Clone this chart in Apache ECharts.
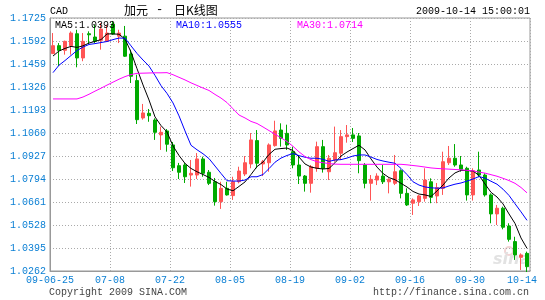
<!DOCTYPE html>
<html><head><meta charset="utf-8">
<script src="https://cdn.jsdelivr.net/npm/echarts@6/dist/echarts.min.js"></script>
<style>html,body{margin:0;padding:0;background:#fff}#c{width:545px;height:300px}</style>
</head><body><div id="c"></div>
<script>
// ---- data ----
const startDate = '2009-06-25';
const tickLabels = ['09-06-25','07-08','07-22','08-05','08-19','09-02','09-16','09-30','10-14'];
const openVals = [1.1519,1.1565,1.1538,1.1565,1.1634,1.1494,1.1634,1.1615,1.1596,1.1590,
1.1690,1.1620,1.1620,1.1517,1.1363,1.1147,1.1174,1.1135,1.1049,1.1072,
1.0991,1.0871,1.0875,1.0817,1.0817,1.0910,1.0833,1.0778,1.0663,1.0740,
1.0698,1.0778,1.0823,1.0881,1.1016,1.0881,1.0888,1.0987,1.1077,1.1058,
1.0952,1.0875,1.0811,1.0769,1.0856,1.0981,1.0836,1.0904,1.0943,1.1039,
1.1049,1.1043,1.0875,1.0769,1.0788,1.0811,1.0778,1.0769,1.0842,1.0711,
1.0654,1.0663,1.0682,1.0778,1.0696,1.0740,1.0888,1.0914,1.0875,1.0856,
1.0702,1.0846,1.0817,1.0702,1.0592,1.0625,1.0522,1.0432,1.0341,1.0364];
const closeVals = [1.1565,1.1538,1.1590,1.1638,1.1494,1.1590,1.1628,1.1590,1.1661,1.1638,
1.1632,1.1638,1.1504,1.1388,1.1137,1.1176,1.1160,1.1064,1.1064,1.0995,
1.0859,1.0833,1.0807,1.0827,1.0910,1.0827,1.0769,1.0663,1.0740,1.0702,
1.0778,1.0840,1.0888,1.1020,1.0885,1.0894,1.0991,1.1072,1.1029,1.0991,
1.0875,1.0811,1.0769,1.0865,1.0981,1.0856,1.0914,1.0946,1.1039,1.1049,
1.1029,1.0900,1.0769,1.0792,1.0811,1.0778,1.0792,1.0836,1.0711,1.0644,
1.0673,1.0696,1.0788,1.0688,1.0744,1.0894,1.0914,1.0875,1.0850,1.0702,
1.0842,1.0817,1.0702,1.0592,1.0625,1.0515,1.0445,1.0355,1.0355,1.0287];
const lowVals = [1.1517,1.1447,1.1513,1.1513,1.1440,1.1475,1.1575,1.1580,1.1542,1.1588,
1.1627,1.1580,1.1500,1.1349,1.1112,1.1137,1.1125,1.1020,1.0962,1.0952,
1.0840,1.0794,1.0771,1.0750,1.0794,1.0807,1.0759,1.0640,1.0621,1.0698,
1.0673,1.0769,1.0811,1.0856,1.0856,1.0811,1.0836,1.0981,1.0981,1.0962,
1.0856,1.0765,1.0721,1.0715,1.0836,1.0831,1.0788,1.0894,1.0904,1.1004,
1.1008,1.0827,1.0740,1.0669,1.0759,1.0765,1.0711,1.0759,1.0682,1.0638,
1.0586,1.0638,1.0663,1.0654,1.0654,1.0702,1.0875,1.0865,1.0836,1.0669,
1.0669,1.0805,1.0692,1.0538,1.0528,1.0503,1.0432,1.0326,1.0268,1.0256];
const highVals = [1.1638,1.1580,1.1594,1.1648,1.1657,1.1638,1.1648,1.1686,1.1696,1.1686,
1.1708,1.1657,1.1679,1.1542,1.1397,1.1228,1.1199,1.1145,1.1097,1.1083,
1.1008,1.0887,1.0887,1.0904,1.0944,1.0923,1.0846,1.0800,1.0778,1.0778,
1.0807,1.0865,1.0927,1.1060,1.1077,1.0904,1.1000,1.1131,1.1116,1.1108,
1.0981,1.0933,1.0817,1.0875,1.1010,1.1020,1.0933,1.1097,1.1077,1.1106,
1.1089,1.1060,1.0886,1.0817,1.0827,1.0875,1.0798,1.0933,1.0850,1.0740,
1.0682,1.0702,1.0856,1.0798,1.0771,1.0952,1.0985,1.0996,1.0927,1.0865,
1.0856,1.0952,1.0827,1.0711,1.0644,1.0634,1.0538,1.0460,1.0364,1.0374];
const ma5 = [1.1505,1.1534,1.1549,1.1561,1.1555,1.1564,1.1580,1.1590,1.1600,1.1633,
1.1633,1.1631,1.1603,1.1528,1.1432,1.1338,1.1251,1.1153,1.1103,1.1066,
1.0985,1.0930,1.0884,1.0855,1.0836,1.0820,1.0803,1.0780,1.0762,1.0736,
1.0726,1.0751,1.0777,1.0820,1.0866,1.0892,1.0936,1.0966,1.0970,1.0973,
1.0959,1.0921,1.0881,1.0863,1.0856,1.0852,1.0855,1.0888,1.0927,1.0950,
1.0970,1.0989,1.0962,1.0910,1.0863,1.0826,1.0802,1.0790,1.0769,1.0748,
1.0722,1.0707,1.0702,1.0693,1.0725,1.0759,1.0800,1.0829,1.0844,1.0843,
1.0840,1.0815,1.0765,1.0717,1.0690,1.0650,1.0592,1.0537,1.0453,1.0393];
const ma10 = [1.1409,1.1452,1.1479,1.1508,1.1537,1.1557,1.1572,1.1577,1.1583,1.1589,
1.1600,1.1609,1.1608,1.1564,1.1520,1.1482,1.1447,1.1393,1.1334,1.1289,
1.1234,1.1159,1.1072,1.0989,1.0963,1.0940,1.0912,1.0869,1.0826,1.0784,
1.0782,1.0782,1.0788,1.0807,1.0807,1.0820,1.0854,1.0891,1.0915,1.0930,
1.0941,1.0929,1.0920,1.0914,1.0914,1.0908,1.0896,1.0904,1.0906,1.0915,
1.0927,1.0933,1.0933,1.0921,1.0907,1.0898,1.0891,1.0885,1.0855,1.0820,
1.0778,1.0759,1.0748,1.0743,1.0741,1.0742,1.0754,1.0764,1.0771,1.0782,
1.0794,1.0808,1.0799,1.0781,1.0764,1.0735,1.0699,1.0651,1.0604,1.0555];
const ma30 = [1.1257,1.1257,1.1257,1.1257,1.1257,1.1268,1.1284,1.1302,1.1319,1.1337,
1.1354,1.1371,1.1386,1.1398,1.1405,1.1406,1.1407,1.1408,1.1408,1.1409,
1.1397,1.1382,1.1367,1.1350,1.1335,1.1320,1.1306,1.1283,1.1262,1.1236,
1.1200,1.1164,1.1147,1.1127,1.1115,1.1095,1.1074,1.1053,1.1032,1.1011,
1.0983,1.0951,1.0924,1.0906,1.0894,1.0888,1.0883,1.0880,1.0879,1.0879,
1.0879,1.0879,1.0879,1.0879,1.0879,1.0879,1.0879,1.0879,1.0879,1.0876,
1.0872,1.0868,1.0863,1.0858,1.0855,1.0853,1.0851,1.0849,1.0847,1.0844,
1.0841,1.0834,1.0828,1.0819,1.0810,1.0798,1.0785,1.0769,1.0745,1.0714];

// trading-day categories
const categories = [];
(function(){
  const d = new Date(startDate + 'T00:00:00Z');
  while (categories.length < openVals.length) {
    const wd = d.getUTCDay();
    if (wd !== 0 && wd !== 6) categories.push(d.toISOString().slice(0,10));
    d.setUTCDate(d.getUTCDate() + 1);
  }
})();
const kData = openVals.map((o, i) => [o, closeVals[i], lowVals[i], highVals[i]]);

const mono = '"Liberation Mono", "DejaVu Sans Mono", monospace';
const cjk = '"Noto Sans CJK SC", sans-serif';
const blue = '#0a7fd4';
const chart = echarts.init(document.getElementById('c'), null, {renderer: 'canvas'});
chart.setOption({
  animation: false,
  backgroundColor: '#fff',
  grid: {left: 50, top: 18, width: 480, height: 253, show: true, borderColor: '#999', borderWidth: 1},
  xAxis: [
    {type: 'category', data: categories, boundaryGap: true, gridIndex: 0,
     axisLine: {show: false}, axisTick: {show: false}, axisLabel: {show: false}, splitLine: {show: false}},
    {type: 'value', min: 0, max: 80, interval: 10, gridIndex: 0, position: 'bottom',
     axisLine: {show: true, lineStyle: {color: '#999', width: 1}}, axisTick: {show: false},
     splitLine: {show: true, lineStyle: {color: '#aaa', type: [1, 2], width: 1}},
     axisLabel: {color: blue, fontFamily: mono, fontSize: 10, margin: 4,
       formatter: function (v) {
         const s = tickLabels[Math.round(v / 10)];
         if (v >= 80) return '{r|' + s + '}';
         return s;
       },
       rich: {r: {color: blue, fontFamily: mono, fontSize: 10, padding: [0, 16, 0, 0]}}}}
  ],
  yAxis: {type: 'value', min: 1.0262, max: 1.1725, interval: 0.0133, scale: true,
    axisLine: {show: true, lineStyle: {color: '#999'}}, axisTick: {show: false},
    splitLine: {show: true, lineStyle: {color: '#aaa', type: [1, 2], width: 1}},
    axisLabel: {color: blue, fontFamily: mono, fontSize: 10, margin: 4,
      formatter: v => v.toFixed(4)}},
  graphic: [
    {type: 'text', left: 50, top: 6, style: {text: 'CAD', font: '10px ' + mono, fill: '#000'}},
    {type: 'text', left: 124, top: 4, style: {text: '加元', font: '12px ' + cjk, fill: '#000'}},
    {type: 'text', left: 156, top: 4, style: {text: '-', font: '12px ' + mono, fill: '#000'}},
    {type: 'text', left: 174, top: 4, style: {text: '日K线图', font: '12px ' + cjk, fill: '#000'}},
    {type: 'text', right: 15, top: 6, style: {text: '2009-10-14 15:00:01', font: '10px ' + mono, fill: '#000'}},
    {type: 'text', left: 55, top: 20, z: 100, style: {text: 'MA5:' + ma5[ma5.length-1].toFixed(4), font: '10px ' + mono, fill: '#000'}},
    {type: 'text', left: 176, top: 20, z: 100, style: {text: 'MA10:' + ma10[ma10.length-1].toFixed(4), font: '10px ' + mono, fill: '#0000ff'}},
    {type: 'text', left: 297, top: 20, z: 100, style: {text: 'MA30:' + ma30[ma30.length-1].toFixed(4), font: '10px ' + mono, fill: '#ff00ff'}},
    {type: 'text', left: 49, top: 287, style: {text: 'Copyright 2009 SINA.COM', font: '10px ' + mono, fill: '#444'}},
    {type: 'text', right: 16, top: 287, style: {text: 'http://finance.sina.com.cn', font: '10px ' + mono, fill: '#444'}},
    {type: 'circle', z: -1, shape: {cx: 509, cy: 251, r: 4}, style: {fill: 'none', stroke: '#f2d4d4', lineWidth: 2}},
    {type: 'text', left: 493, top: 252, z: -1, style: {text: 'sina', font: 'italic bold 16px "DejaVu Sans"', fill: '#e2e2e2'}}
  ],
  series: [
    {type: 'candlestick', xAxisIndex: 0, yAxisIndex: 0, data: kData, barWidth: 4,
     itemStyle: {color: '#ff5555', color0: '#00aa00', borderColor: '#ff5555', borderColor0: '#00aa00', borderWidth: 1}},
    {type: 'line', xAxisIndex: 0, data: ma5, showSymbol: false, lineStyle: {color: '#000', width: 1}, z: 3},
    {type: 'line', xAxisIndex: 0, data: ma10, showSymbol: false, lineStyle: {color: '#0000ff', width: 1}, z: 3},
    {type: 'line', xAxisIndex: 0, data: ma30, showSymbol: false, lineStyle: {color: '#ff00ff', width: 1}, z: 3}
  ]
});
</script></body></html>
